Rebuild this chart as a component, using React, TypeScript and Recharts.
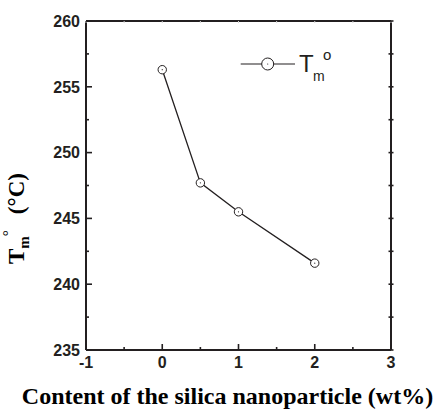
import React from 'react';
import { LineChart, Line, XAxis, YAxis, Legend } from 'recharts';

const contents = [0, 0.5, 1, 2];
const tmValues = [256.3, 247.7, 245.5, 241.6];
const xTicks = [-1, -0.5, 0, 0.5, 1, 1.5, 2, 2.5, 3];
const yTicks = [235, 237.5, 240, 242.5, 245, 247.5, 250, 252.5, 255, 257.5, 260];
const xDomain = [-1, 3];
const yDomain = [235, 260];
const xLabelText = 'Content of the silica nanoparticle (wt%)';

const data = contents.map((x, i) => ({ x, tm: tmValues[i] }));

const INK = '#231f20';
const SANS = '"Liberation Sans", Arial, sans-serif';
const SERIF = '"Liberation Serif", "Times New Roman", serif';

const LeftTick = (props: any) => {
  const { x, y, payload } = props;
  const v = payload.value;
  const major = v % 5 === 0;
  return (
    <g>
      <line x1={x} y1={y} x2={x + (major ? 6 : 3)} y2={y} stroke={INK} strokeWidth={1.6} />
      {major && (
        <text x={x - 6} y={y} dy={5.8} textAnchor="end" fontFamily={SANS} fontWeight={700} fontSize={16} fill={INK}>
          {v}
        </text>
      )}
    </g>
  );
};

const BottomTick = (props: any) => {
  const { x, y, payload } = props;
  const v = payload.value;
  const major = Number.isInteger(v);
  return (
    <g>
      <line x1={x} y1={y} x2={x} y2={y - (major ? 6 : 3)} stroke={INK} strokeWidth={1.6} />
      {major && (
        <text x={x} y={y + 18} textAnchor="middle" fontFamily={SANS} fontWeight={700} fontSize={16} fill={INK}>
          {v}
        </text>
      )}
    </g>
  );
};

const RightTick = (props: any) => {
  const { x, y } = props;
  return <line x1={x - 2.5} y1={y} x2={x + 2.5} y2={y} stroke={INK} strokeWidth={1.6} />;
};

const TopTick = (props: any) => {
  const { x, y } = props;
  return <line x1={x} y1={y} x2={x} y2={y + 2} stroke="#d0d0d0" strokeWidth={1} />;
};

const YLabel = (props: any) => {
  const vb = props.viewBox || { x: 0, y: 21, width: 86, height: 329 };
  const cx = vb.x + 16;
  const cy = vb.y + vb.height - 86;
  return (
    <text
      transform={`rotate(-90 ${cx} ${cy})`}
      x={cx}
      y={cy + 8}
      textAnchor="start"
      fontFamily={SERIF}
      fontWeight={700}
      fontSize={23}
      fill="#000"
    >
      <tspan>T</tspan>
      <tspan dy={5} fontSize={15}>m</tspan>
      <tspan dy={-16} fontSize={15} fontWeight={400}>°</tspan>
      <tspan dy={11} dx={16}>(°C)</tspan>
    </text>
  );
};

const XLabel = (props: any) => {
  const vb = props.viewBox || { x: 86, y: 350, width: 305, height: 60 };
  return (
    <text
      x={vb.x + vb.width / 2 - 11}
      y={vb.y + 54}
      textAnchor="middle"
      fontFamily={SERIF}
      fontWeight={700}
      fontSize={24}
      fill="#000"
    >
      {xLabelText}
    </text>
  );
};

const renderDot = (p: any) => (
  <g key={`d-${p.index}`}>
    <circle cx={p.cx} cy={p.cy} r={4.2} fill="#fff" stroke={INK} strokeWidth={1} />
    <circle cx={p.cx} cy={p.cy} r={0.6} fill={INK} />
  </g>
);

const renderLegend = () => (
  <svg width={110} height={42} style={{ display: 'block', overflow: 'visible' }}>
    <line x1={4.7} y1={20} x2={59} y2={20} stroke={INK} strokeWidth={1.2} />
    <circle cx={31.7} cy={20} r={6} fill="#fff" stroke={INK} strokeWidth={1} />
    <circle cx={31.7} cy={20} r={0.6} fill={INK} />
    <text x={63} y={28} fontFamily={SANS} fontSize={24} fill={INK}>T</text>
    <text x={77} y={37} fontFamily={SANS} fontSize={14} fill={INK}>m</text>
    <text x={87} y={16} fontFamily={SANS} fontSize={15} fill={INK}>o</text>
  </svg>
);

export default function App() {
  return (
    <div style={{ position: 'absolute', left: 0, top: 0, width: 436, height: 410, background: '#fff' }}>
      <LineChart width={436} height={410} data={data} margin={{ top: 20, right: 44, bottom: 0, left: 0 }}>
        <XAxis
          xAxisId="bottom"
          dataKey="x"
          type="number"
          domain={xDomain}
          ticks={xTicks}
          interval={0}
          allowDataOverflow
          height={60}
          tickSize={0}
          tickMargin={0}
          tickLine={false}
          stroke={INK}
          axisLine={{ stroke: INK, strokeWidth: 2 }}
          tick={BottomTick}
          label={{ content: XLabel }}
        />
        <XAxis
          xAxisId="top"
          orientation="top"
          dataKey="x"
          type="number"
          domain={xDomain}
          ticks={xTicks}
          interval={0}
          allowDataOverflow
          height={1}
          tickSize={0}
          tickMargin={0}
          tickLine={false}
          stroke={INK}
          axisLine={{ stroke: INK, strokeWidth: 2 }}
          tick={TopTick}
        />
        <YAxis
          yAxisId="left"
          type="number"
          domain={yDomain}
          ticks={yTicks}
          interval={0}
          allowDataOverflow
          width={86}
          tickSize={0}
          tickMargin={0}
          tickLine={false}
          stroke={INK}
          axisLine={{ stroke: INK, strokeWidth: 2 }}
          tick={LeftTick}
          label={{ content: YLabel }}
        />
        <YAxis
          yAxisId="right"
          orientation="right"
          type="number"
          domain={yDomain}
          ticks={yTicks}
          interval={0}
          allowDataOverflow
          width={1}
          tickSize={0}
          tickMargin={0}
          tickLine={false}
          stroke={INK}
          axisLine={{ stroke: INK, strokeWidth: 2 }}
          tick={RightTick}
        />
        <Legend
          layout="horizontal"
          verticalAlign="middle"
          align="center"
          content={renderLegend}
          wrapperStyle={{ position: 'absolute', left: 236, top: 44, width: 110, height: 42 }}
        />
        <Line
          xAxisId="bottom"
          yAxisId="left"
          dataKey="tm"
          name="Tm°"
          stroke={INK}
          strokeWidth={1.3}
          dot={renderDot}
          activeDot={false}
          isAnimationActive={false}
        />
      </LineChart>
    </div>
  );
}
